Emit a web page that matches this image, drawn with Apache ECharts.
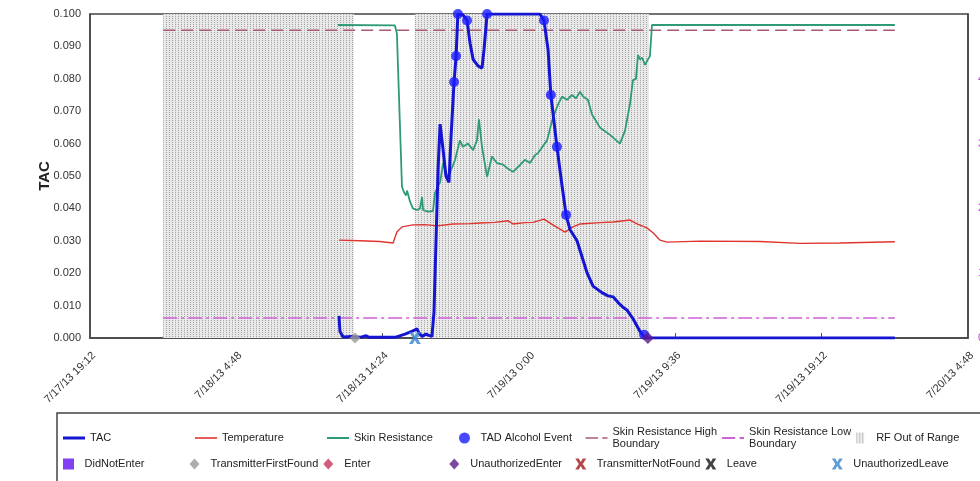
<!DOCTYPE html>
<html>
<head>
<meta charset="utf-8">
<script src="https://cdn.jsdelivr.net/npm/echarts@6/dist/echarts.min.js"></script>
<style>html,body{margin:0;padding:0;background:#fff}#chart{width:980px;height:481px}</style>
</head>
<body>
<div id="chart"></div>
<script>
// ---- data (times as M/D H:MM in July 2013) ----
const xTickStart = 19.2;   // 7/17/13 19:12, hours since 7/17 0:00
const xTickStep = 9.6;
const xTickEnd = 76.8;     // 7/20/13 4:48

const tacData = [
  ['7/18 11:32',0.0068],['7/18 11:36',0.002],['7/18 11:48',0.0003],['7/18 12:23',0.0005],['7/18 12:55',0.0002],
  ['7/18 13:19',0.0007],['7/18 13:30',0.0002],['7/18 15:13',0.0002],['7/18 15:52',0.0012],['7/18 16:23',0.0022],
  ['7/18 16:39',0.0028],['7/18 16:47',0.0015],['7/18 16:59',0.0005],['7/18 17:14',0.0012],['7/18 17:26',0.0008],
  ['7/18 17:38',0.0005],['7/18 17:46',0.008],['7/18 17:54',0.030],['7/18 18:02',0.052],['7/18 18:10',0.066],
  ['7/18 18:22',0.058],['7/18 18:33',0.050],['7/18 18:45',0.048],['7/18 18:53',0.062],['7/18 19:05',0.079],
  ['7/18 19:13',0.087],['7/18 19:20',0.100],['7/18 19:40',0.0997],['7/18 19:56',0.098],['7/18 20:08',0.091],
  ['7/18 20:20',0.086],['7/18 20:39',0.084],['7/18 20:55',0.0833],['7/18 21:03',0.089],['7/18 21:15',0.100],
  ['7/19 0:43',0.100],['7/19 0:59',0.098],['7/19 1:15',0.089],['7/19 1:26',0.075],['7/19 1:38',0.067],
  ['7/19 1:50',0.059],['7/19 2:10',0.047],['7/19 2:26',0.038],['7/19 2:41',0.0335],['7/19 2:53',0.032],
  ['7/19 3:09',0.030],['7/19 3:29',0.025],['7/19 3:49',0.020],['7/19 4:12',0.016],['7/19 4:47',0.014],
  ['7/19 5:11',0.013],['7/19 5:31',0.0127],['7/19 5:50',0.011],['7/19 6:10',0.0095],['7/19 6:26',0.0086],
  ['7/19 6:49',0.006],['7/19 7:17',0.002],['7/19 7:37',0],['7/20 0:00',0]
];

const temperatureData = [
  ['7/18 11:32',0.0302],['7/18 12:55',0.0300],['7/18 14:13',0.0298],['7/18 15:05',0.0293],['7/18 15:20',0.0327],
  ['7/18 15:40',0.0343],['7/18 16:23',0.0349],['7/18 17:11',0.0350],['7/18 17:58',0.0346],['7/18 19:01',0.0352],
  ['7/18 20:08',0.0353],['7/18 20:47',0.0355],['7/18 21:46',0.0357],['7/18 22:37',0.0362],['7/18 22:57',0.0352],
  ['7/18 23:44',0.0356],['7/19 0:16',0.0357],['7/19 0:59',0.0367],['7/19 1:34',0.0349],['7/19 2:22',0.0327],
  ['7/19 2:53',0.0343],['7/19 3:21',0.0352],['7/19 4:39',0.0356],['7/19 5:31',0.0358],['7/19 6:38',0.0364],
  ['7/19 7:05',0.0352],['7/19 7:44',0.0340],['7/19 8:08',0.0325],['7/19 8:36',0.0302],['7/19 9:03',0.0296],
  ['7/19 11:13',0.0299],['7/19 15:09',0.0298],['7/19 17:47',0.0292],['7/19 20:24',0.0293],['7/20 0:00',0.0297]
];

const skinResistanceData = [
  ['7/18 11:28',0.0966],['7/18 15:12',0.0965],['7/18 15:20',0.0940],['7/18 15:40',0.0467],['7/18 15:48',0.0450],
  ['7/18 15:56',0.0440],['7/18 16:00',0.0455],['7/18 16:12',0.0420],['7/18 16:23',0.0400],['7/18 16:39',0.0395],
  ['7/18 16:51',0.0400],['7/18 16:59',0.0435],['7/18 17:03',0.0395],['7/18 17:22',0.0390],['7/18 17:42',0.0392],
  ['7/18 17:50',0.0447],['7/18 18:02',0.0470],['7/18 18:10',0.0480],['7/18 18:22',0.0540],['7/18 18:37',0.0500],
  ['7/18 18:49',0.0510],['7/18 19:09',0.0550],['7/18 19:28',0.0610],['7/18 19:40',0.0590],['7/18 20:00',0.0600],
  ['7/18 20:20',0.0580],['7/18 20:35',0.0610],['7/18 20:43',0.0675],['7/18 20:55',0.0590],['7/18 21:15',0.0497],
  ['7/18 21:34',0.0560],['7/18 21:54',0.0540],['7/18 22:18',0.0535],['7/18 22:33',0.0525],['7/18 22:57',0.0513],
  ['7/18 23:25',0.0534],['7/18 23:44',0.0550],['7/19 0:04',0.0540],['7/19 0:24',0.0565],['7/19 0:35',0.0570],
  ['7/19 1:11',0.0610],['7/19 1:34',0.0680],['7/19 1:54',0.0720],['7/19 2:10',0.0745],['7/19 2:30',0.0735],
  ['7/19 2:49',0.0750],['7/19 3:05',0.0740],['7/19 3:21',0.0760],['7/19 3:33',0.0745],['7/19 3:52',0.0735],
  ['7/19 4:08',0.0690],['7/19 4:39',0.0650],['7/19 5:19',0.0627],['7/19 5:58',0.0600],['7/19 6:18',0.0640],
  ['7/19 6:38',0.0725],['7/19 6:49',0.0796],['7/19 7:01',0.0800],['7/19 7:09',0.0873],['7/19 7:17',0.0860],
  ['7/19 7:25',0.0865],['7/19 7:37',0.0843],['7/19 7:48',0.0860],['7/19 7:56',0.0870],['7/19 8:04',0.0966],
  ['7/20 0:00',0.0966]
];

const tadEventData = [
  ['7/18 19:05',0.079],['7/18 19:13',0.087],['7/18 19:20',0.100],['7/18 19:56',0.098],['7/18 21:15',0.100],
  ['7/19 0:59',0.098],['7/19 1:26',0.075],['7/19 1:50',0.059],['7/19 2:26',0.038],['7/19 7:33',0.001]
];

const srHighBoundary = [['7/18 0:00',0.095],['7/20 0:00',0.095]];
const srLowBoundary = [['7/18 0:00',0.0062],['7/20 0:00',0.0062]];
const rfOutOfRange = [['7/18 0:00','7/18 12:31'],['7/18 16:31','7/19 7:52']];

const transmitterFirstFound = [['7/18 12:35',0]];
const unauthorizedEnter = [['7/19 7:48',0]];
const unauthorizedLeave = [['7/18 16:31',0]];

const legendRow1 = ['TAC','Temperature','Skin Resistance','TAD Alcohol Event','Skin Resistance High Boundary','Skin Resistance Low Boundary','RF Out of Range'];
const legendRow2 = ['DidNotEnter','TransmitterFirstFound','Enter','UnauthorizedEnter','TransmitterNotFound','Leave','UnauthorizedLeave'];

// ---- helpers ----
function hrs(s){
  const [d, hm] = s.split(' ');
  const day = Number(d.split('/')[1]);
  const [h, m] = hm.split(':').map(Number);
  return (day - 17) * 24 + h + m / 60;
}
const pts = arr => arr.map(p => [hrs(p[0]), p[1]]);
function fmtX(v){
  const dayOff = Math.floor(v / 24 + 1e-9);
  let rem = v - dayOff * 24;
  let h = Math.floor(rem + 1e-9);
  let m = Math.round((rem - h) * 60);
  if (m === 60) { m = 0; h += 1; }
  return '7/' + (17 + dayOff) + '/13 ' + h + ':' + (m < 10 ? '0' : '') + m;
}
function makePattern(){
  const c = document.createElement('canvas');
  c.width = 3; c.height = 2;
  const g = c.getContext('2d');
  g.fillStyle = '#e9e9e9'; g.fillRect(0,0,3,2);
  g.fillStyle = '#a2a2a2'; g.fillRect(1,0,1,1);
  return c;
}
const pattern = {image: makePattern(), repeat: 'repeat'};

const X_PATH = 'path://M0,0L3.2,0L5,3.2L6.8,0L10,0L6.8,5L10,10L6.8,10L5,6.8L3.2,10L0,10L3.2,5Z';
const DIAMOND = 'path://M5,0L10,5.5L5,11L0,5.5Z';
const SQUARE = 'path://M0,0H11V11H0Z';
const icons = {
  'TAC': 'path://M0,0H22V3H0Z',
  'Temperature': 'path://M0,0H22V1.6H0Z',
  'Skin Resistance': 'path://M0,0H22V2H0Z',
  'TAD Alcohol Event': 'circle',
  'Skin Resistance High Boundary': 'path://M0,0H12V1.6H0Z M16,0H21V1.6H16Z',
  'Skin Resistance Low Boundary': 'path://M0,0H12V2H0Z M16,0H20V2H16Z',
  'RF Out of Range': 'path://M0,0H8V11H0Z',
  'DidNotEnter': SQUARE,
  'TransmitterFirstFound': DIAMOND,
  'Enter': DIAMOND,
  'UnauthorizedEnter': DIAMOND,
  'TransmitterNotFound': X_PATH,
  'Leave': X_PATH,
  'UnauthorizedLeave': X_PATH
};

const chart = echarts.init(document.getElementById('chart'), null, {renderer: 'canvas'});
const font = "'Liberation Sans', Arial, sans-serif";

function legendCfg(names, top){
  return {
    left: 63, top: top, padding: 0, orient: 'horizontal',
    itemWidth: 22, itemHeight: 11, itemGap: 5,
    selectedMode: false,
    textStyle: {fontSize: 11, color: '#222', fontFamily: font, width: 100, lineHeight: 12},
    formatter: n => n.replace(' High Boundary', ' High\nBoundary').replace(' Low Boundary', ' Low\nBoundary'),
    data: names.map(n => {
      const o = {name: n, icon: icons[n]};
      if (n === 'RF Out of Range') o.itemStyle = {color: pattern};
      return o;
    })
  };
}

function scatterMarker(name, data, symbol, color, size){
  return {
    name, type: 'scatter', data: pts(data), symbol, symbolSize: size,
    itemStyle: {color}, z: 7, animation: false
  };
}

const option = {
  animation: false,
  backgroundColor: '#fff',
  textStyle: {fontFamily: font},
  grid: {left: 90, right: 12, top: 14, bottom: 143, show: true, borderColor: '#444', borderWidth: 1.5,
         containLabel: false, outerBoundsMode: 'none'},
  legend: [legendCfg(legendRow1, 426), legendCfg(legendRow2, 458)],
  graphic: [{
    type: 'rect', shape: {x: 57, y: 413, width: 960, height: 100},
    style: {fill: 'none', stroke: '#444', lineWidth: 1.5}, silent: true, z: -1
  }],
  xAxis: {
    type: 'value', min: xTickStart, max: xTickEnd, interval: xTickStep,
    axisLine: {show: true, lineStyle: {color: '#444', width: 1.5}},
    axisTick: {show: true, inside: true, length: 5, lineStyle: {color: '#555'}},
    splitLine: {show: false},
    axisLabel: {rotate: 45, fontSize: 11, color: '#333', margin: 12, align: 'right', verticalAlign: 'top',
                formatter: fmtX, fontFamily: font}
  },
  yAxis: [{
    type: 'value', min: 0, max: 0.1, interval: 0.01,
    name: 'TAC', nameLocation: 'middle', nameGap: 38, nameMoveOverlap: false,
    nameTextStyle: {fontSize: 15, fontWeight: 'bold', color: '#222', fontFamily: font},
    axisLine: {show: true, lineStyle: {color: '#444', width: 1.5}},
    axisTick: {show: false}, splitLine: {show: false},
    axisLabel: {fontSize: 11, color: '#333', margin: 9, formatter: v => v.toFixed(3), fontFamily: font}
  }, {
    type: 'value', position: 'right', min: 0, max: 5, interval: 1,
    axisLine: {show: true, lineStyle: {color: '#444', width: 1.5}},
    axisTick: {show: false}, splitLine: {show: false},
    axisLabel: {fontSize: 11, color: '#b050c8', margin: 10, showMaxLabel: false, fontFamily: font}
  }],
  series: [
    {
      name: 'RF Out of Range', type: 'line', data: [], z: 1, silent: true,
      itemStyle: {color: '#c8c8c8'},
      markArea: {
        silent: true,
        itemStyle: {color: pattern, borderWidth: 0},
        data: rfOutOfRange.map(r => [{xAxis: hrs(r[0])}, {xAxis: hrs(r[1])}])
      }
    },
    {
      name: 'Skin Resistance High Boundary', type: 'line', data: pts(srHighBoundary), symbol: 'none', z: 2,
      color: '#a85a72', lineStyle: {color: '#a85a72', width: 1.5, type: [12, 6]}
    },
    {
      name: 'Skin Resistance Low Boundary', type: 'line', data: pts(srLowBoundary), symbol: 'none', z: 2,
      color: '#d060d8', lineStyle: {color: '#d060d8', width: 1.5, type: [14, 4, 3, 4]}
    },
    {
      name: 'Temperature', type: 'line', data: pts(temperatureData), symbol: 'none', z: 3,
      color: '#e0352e', lineStyle: {color: '#e0352e', width: 1.4}
    },
    {
      name: 'Skin Resistance', type: 'line', data: pts(skinResistanceData), symbol: 'none', z: 3,
      color: '#2e9a78', lineStyle: {color: '#2e9a78', width: 1.8}
    },
    {
      name: 'TAC', type: 'line', data: pts(tacData), symbol: 'none', z: 5,
      color: '#1414d2', lineStyle: {color: '#1414d2', width: 3}
    },
    {
      name: 'TAD Alcohol Event', type: 'scatter', data: pts(tadEventData), symbol: 'circle', symbolSize: 10, z: 6,
      itemStyle: {color: '#1a1aff'}
    },
    scatterMarker('DidNotEnter', [], SQUARE, '#6010f0', 11),
    scatterMarker('TransmitterFirstFound', transmitterFirstFound, DIAMOND, '#999999', 11),
    scatterMarker('Enter', [], DIAMOND, '#c8325a', 11),
    scatterMarker('UnauthorizedEnter', unauthorizedEnter, DIAMOND, '#5c1a8c', 12),
    scatterMarker('TransmitterNotFound', [], X_PATH, '#a01818', 11),
    scatterMarker('Leave', [], X_PATH, '#111111', 11),
    scatterMarker('UnauthorizedLeave', unauthorizedLeave, X_PATH, '#3a86d0', 12)
  ]
};
chart.setOption(option);
</script>
</body>
</html>
